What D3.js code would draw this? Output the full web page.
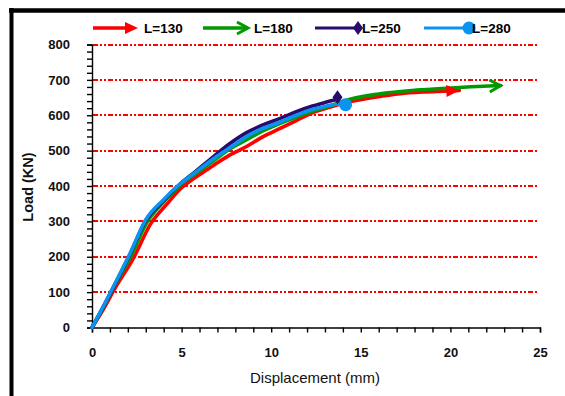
<!DOCTYPE html>
<html><head><meta charset="utf-8">
<script src="https://cdn.jsdelivr.net/npm/d3@7"></script>
<style>body{margin:0;background:#fff;}svg{display:block;}</style>
</head><body>
<script>
const seriesNames = ["L=130","L=180","L=250","L=280"];
const seriesColors = ["#ff0000","#009a00","#2a0a6e","#0a93f0"];
const seriesMarkers = ["arrow","openArrow","diamond","circle"];
const disp130 = [0,0.5,1.3,2.3,3.3,4.2,5.0,5.8,6.8,7.7,8.6,9.5,10.5,11.4,12.2,13.2,14.4,15.8,17.2,18.6,20.0,20.5];
const load130 = [0,40,112,195,295,350,395,425,459,488,511,538,563,585,605,622,638,651,661,666,669,670];
const disp180 = [0,0.5,1.2,2.2,3.1,4.0,4.9,5.8,6.8,7.7,8.6,9.5,10.5,11.4,12.3,13.2,14.4,16.0,18.1,20.0,21.8,22.8];
const load180 = [0,45,112,205,300,355,402,436,472,505,530,555,577,595,611,625,645,660,671,677,682,684];
const disp250 = [0,0.5,1.2,2.1,3.0,4.0,4.9,5.8,6.8,7.7,8.6,9.5,10.5,11.4,12.3,13.0,13.7];
const load250 = [0,46,114,205,302,358,405,442,484,520,550,572,591,610,626,636,645];
const disp280 = [0,0.5,1.2,2.1,3.0,4.0,4.9,5.8,6.8,7.9,8.6,9.5,10.5,11.4,12.3,13.0,13.7,14.15];
const load280 = [0,47,116,207,305,362,405,440,478,515,539,562,581,600,616,625,631,630];
const xTicks = [0,5,10,15,20,25];
const yTicks = [0,100,200,300,400,500,600,700,800];
const xTitle = "Displacement (mm)";
const yTitle = "Load (KN)";

const series = [
  {disp:disp130, load:load130},
  {disp:disp180, load:load180},
  {disp:disp250, load:load250},
  {disp:disp280, load:load280}
].map((s,i)=>({name:seriesNames[i], color:seriesColors[i], marker:seriesMarkers[i],
  pts:s.disp.map((d,j)=>[d,s.load[j]])}));

const W=565,H=396;
const svg=d3.select("body").append("svg").attr("width",W).attr("height",H);
const x=d3.scaleLinear().domain([0,25]).range([92,540]);
const y=d3.scaleLinear().domain([0,800]).range([327.5,44.5]);
const font="'Liberation Sans', Arial, sans-serif";

// frame (left & top)
svg.append("line").attr("x1",9).attr("x2",W).attr("y1",10.5).attr("y2",10.5).attr("stroke","#000").attr("stroke-width",4.5);
svg.append("line").attr("x1",11.5).attr("x2",11.5).attr("y1",8).attr("y2",H).attr("stroke","#000").attr("stroke-width",4);

// gridlines
svg.append("g").selectAll("line").data(yTicks.filter(v=>v>0)).join("line")
  .attr("x1",x(0)+1).attr("x2",538).attr("y1",d=>Math.round(y(d))).attr("y2",d=>Math.round(y(d)))
  .attr("stroke","#ff0000").attr("stroke-width",1.2).attr("shape-rendering","crispEdges")
  .attr("stroke-dasharray","5,2,2,2,2,2");

// y axis
const yAxis=d3.axisLeft(y).tickValues(d3.range(0,801,20)).tickSize(5).tickFormat("");
svg.append("g").attr("transform",`translate(${x(0)},0)`).call(yAxis)
  .call(g=>g.selectAll("line,path").attr("stroke","#000").attr("stroke-width",1.4));
const yLab=d3.axisLeft(y).tickValues(yTicks).tickSize(0).tickPadding(22);
svg.append("g").attr("transform",`translate(${x(0)},0)`).call(yLab)
  .call(g=>{g.select("path").remove();g.selectAll("text").attr("font-family",font).attr("font-weight","bold").attr("font-size",13).attr("fill","#111");});

// x axis
const xAxis=d3.axisBottom(x).tickValues(d3.range(0,26,1)).tickSize(5).tickFormat("");
svg.append("g").attr("transform",`translate(0,${y(0)})`).call(xAxis)
  .call(g=>g.selectAll("line,path").attr("stroke","#000").attr("stroke-width",1.4));
const xLab=d3.axisBottom(x).tickValues(xTicks).tickSize(0).tickPadding(20);
svg.append("g").attr("transform",`translate(0,${y(0)})`).call(xLab)
  .call(g=>{g.select("path").remove();g.selectAll("text").attr("font-family",font).attr("font-weight","bold").attr("font-size",13).attr("fill","#111");});

// titles
svg.append("text").attr("x",315).attr("y",383).attr("text-anchor","middle")
  .attr("font-family",font).attr("font-size",15).attr("fill","#111").text(xTitle);
svg.append("text").attr("transform","translate(33,187) rotate(-90)").attr("text-anchor","middle")
  .attr("font-family",font).attr("font-weight","bold").attr("font-size",14.5).attr("fill","#111").text(yTitle);

// markers
function drawMarker(g,type,color,px,py,angle){
  const m=g.append("g").attr("transform",`translate(${px},${py}) rotate(${angle})`);
  if(type==="arrow"){
    m.append("path").attr("d","M0,0 L-13,-6 L-13,6 Z").attr("fill",color);
  } else if(type==="openArrow"){
    m.append("path").attr("d","M-11,-6 L0,0 L-11,6").attr("fill","none").attr("stroke",color).attr("stroke-width",3);
  } else if(type==="diamond"){
    m.append("path").attr("d","M0,-7 L5,0 L0,7 L-5,0 Z").attr("fill",color);
  } else {
    m.append("circle").attr("r",6.5).attr("fill",color);
  }
}

const line=d3.line().x(d=>x(d[0])).y(d=>y(d[1])).curve(d3.curveMonotoneX);
const plot=svg.append("g");
series.forEach(s=>{
  plot.append("path").attr("d",line(s.pts)).attr("fill","none").attr("stroke",s.color)
    .attr("stroke-width",3.6).attr("stroke-linejoin","round").attr("stroke-linecap","round");
});
series.forEach(s=>{
  const n=s.pts.length, a=s.pts[n-2], b=s.pts[n-1];
  const ang=Math.atan2(y(b[1])-y(a[1]),x(b[0])-x(a[0]))*180/Math.PI;
  const ex=x(b[0]), ey=y(b[1]);
  if(s.marker==="diamond") drawMarker(plot,s.marker,s.color,ex,ey-2,0);
  else if(s.marker==="circle") drawMarker(plot,s.marker,s.color,ex,ey,0);
  else drawMarker(plot,s.marker,s.color,ex,ey,ang);
});

// legend
const legX=[93,203,315,424];
const leg=svg.append("g");
series.forEach((s,i)=>{
  const x0=legX[i], ly=28;
  if(s.marker==="arrow"){
    leg.append("line").attr("x1",x0).attr("x2",x0+34).attr("y1",ly).attr("y2",ly).attr("stroke",s.color).attr("stroke-width",3.5);
    drawMarker(leg,s.marker,s.color,x0+45,ly,0);
    leg.append("text").attr("x",x0+51).attr("y",ly+5).text(s.name);
  } else if(s.marker==="openArrow"){
    leg.append("line").attr("x1",x0).attr("x2",x0+44).attr("y1",ly).attr("y2",ly).attr("stroke",s.color).attr("stroke-width",3.5);
    drawMarker(leg,s.marker,s.color,x0+45,ly,0);
    leg.append("text").attr("x",x0+51).attr("y",ly+5).text(s.name);
  } else if(s.marker==="diamond"){
    leg.append("line").attr("x1",x0).attr("x2",x0+43).attr("y1",ly).attr("y2",ly).attr("stroke",s.color).attr("stroke-width",3);
    drawMarker(leg,s.marker,s.color,x0+43,ly,0);
    leg.append("text").attr("x",x0+47).attr("y",ly+5).text(s.name);
  } else {
    leg.append("line").attr("x1",x0).attr("x2",x0+45).attr("y1",ly).attr("y2",ly).attr("stroke",s.color).attr("stroke-width",3);
    drawMarker(leg,s.marker,s.color,x0+45,ly,0);
    leg.append("text").attr("x",x0+48).attr("y",ly+5).text(s.name);
  }
});
leg.selectAll("text").attr("font-family",font).attr("font-weight","bold").attr("font-size",13.5).attr("fill","#000");
</script>
</body></html>
